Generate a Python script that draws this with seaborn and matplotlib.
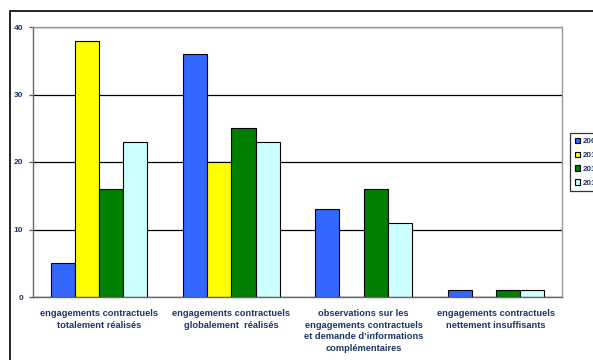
import matplotlib
matplotlib.use("Agg")
import matplotlib.pyplot as plt
import seaborn as sns
import pandas as pd
from matplotlib.patches import Rectangle

categories = [
    "engagements contractuels\ntotalement réalisés",
    "engagements contractuels\nglobalement  réalisés",
    "observations sur les\nengagements contractuels\net demande d’informations\ncomplémentaires",
    "engagements contractuels\nnettement insuffisants",
]
years = ["2009", "2010", "2011", "2012"]
values_2009 = [5, 36, 13, 1]
values_2010 = [38, 20, 0, 0]
values_2011 = [16, 25, 16, 1]
values_2012 = [23, 23, 11, 1]
colors = ["#3366FF", "#FFFF00", "#008000", "#CCFFFF"]
yticks = [0, 10, 20, 30, 40]

series = [values_2009, values_2010, values_2011, values_2012]
rows = []
for y, vals in zip(years, series):
    for c, v in zip(categories, vals):
        rows.append({"cat": c, "year": y, "val": v})
df = pd.DataFrame(rows)

sns.set_style("white")
plt.rcParams["font.family"] = ["Liberation Sans", "DejaVu Sans"]
txt_color = "#1c3766"

fig = plt.figure(figsize=(5.93, 3.6), dpi=100)
ax = fig.add_axes([33 / 593, 1 - 297 / 360, (562 - 33) / 593, (297 - 27) / 360])

sns.barplot(data=df, x="cat", y="val", hue="year", palette=colors, width=0.73,
            gap=0, edgecolor="black", linewidth=0.8, saturation=1, ax=ax,
            legend=True)

ax.set_ylim(0, 40)
ax.set_xlim(-0.5, 3.5)
ax.set_yticks(yticks)
ax.set_yticklabels([str(t) for t in yticks], fontsize=6, fontweight="bold", color=txt_color)
ax.set_xlabel("")
ax.set_ylabel("")
ax.yaxis.grid(True, color="black", linewidth=0.9)
ax.set_axisbelow(True)

ax.set_xticks(range(4))
ax.set_xticklabels(categories, fontsize=6.7, fontweight="bold", color=txt_color, linespacing=1.4)
ax.set_xticks([-0.5, 0.5, 1.5, 2.5, 3.5], minor=True)
ax.tick_params(axis="x", which="major", length=0, pad=8.5)
ax.tick_params(axis="x", which="minor", length=4, width=0.9, color="#555555", direction="out")
ax.tick_params(axis="y", which="major", length=3, width=0.9, color="#555555", direction="out", left=True, pad=4)

for s in ["top", "right"]:
    ax.spines[s].set_color("#999999")
    ax.spines[s].set_linewidth(1.0)
for s in ["left", "bottom"]:
    ax.spines[s].set_color("#666666")
    ax.spines[s].set_linewidth(1.0)

handles, labels = ax.get_legend_handles_labels()
ax.get_legend().remove()
leg = fig.legend(handles, labels, loc="upper left", bbox_to_anchor=(570 / 593, 1 - 133 / 360),
                 fontsize=5.8, frameon=True, fancybox=False, edgecolor="black",
                 handlelength=0.7, handleheight=0.7, handletextpad=0.25,
                 labelspacing=0.75, borderpad=0.6, borderaxespad=0)
leg.get_frame().set_linewidth(0.9)
for t in leg.get_texts():
    t.set_color(txt_color)
    t.set_fontweight("bold")

fig.patches.append(Rectangle((10 / 593, -0.5), 2.0, 1.5 - 11 / 360 + 0.0,
                             transform=fig.transFigure, fill=False,
                             edgecolor="black", linewidth=1.2))

fig.savefig("out.png", dpi=100)
